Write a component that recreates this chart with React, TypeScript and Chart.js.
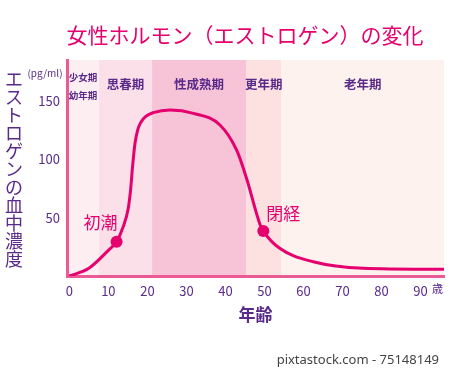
import React, { useEffect, useRef } from "react";
import { Chart, registerables } from "chart.js";

Chart.register(...registerables);

const TITLE = "女性ホルモン（エストロゲン）の変化";
const Y_TITLE = "エストロゲンの血中濃度";
const Y_UNIT = "(pg/ml)";
const X_TITLE = "年齢";
const X_UNIT = "歳";
const CREDIT = "pixtastock.com - 75148149";

const AGES = [0, 5, 10, 12.1, 13.8, 15.1, 15.7, 16.2, 16.8, 17.5, 18.3, 19.5, 21.5, 25.8, 31.8, 38.6, 42.9, 45.4, 48.9, 49.7, 53.9, 62.5, 75.3, 96];
const ESTROGEN = [0, 6.6, 22, 29.4, 42.2, 58, 74, 93.6, 113, 125, 131.5, 136.5, 139.9, 142.2, 139.3, 129.3, 107.5, 83.7, 43.7, 38.5, 23.7, 12.2, 6.6, 5.7];

const EVENT_LABELS = ["初潮", "閉経"];
const EVENT_AGES = [12.1, 49.7];
const EVENT_VALUES = [29.4, 38.5];

const STAGE_LABELS = [["少女期", "幼年期"], ["思春期"], ["性成熟期"], ["更年期"], ["老年期"]];
const STAGE_STARTS = [-0.6, 7.6, 21.2, 45.3, 54.3];
const STAGE_ENDS = [7.6, 21.2, 45.3, 54.3, 96];
const STAGE_COLORS = ["#fdeef2", "#fbe0e9", "#f6c3d7", "#fde1e0", "#fef2ee"];

const X_TICKS = [0, 10, 20, 30, 40, 50, 60, 70, 80, 90];
const Y_TICKS = [50, 100, 150];

const PURPLE = "#5a2a8a";
const MAGENTA = "#e5006e";
const AXIS_PINK = "#ea5a95";
const JP = '"Noto Sans CJK JP", "Noto Sans", sans-serif';

const bandsPlugin = {
  id: "bands",
  beforeDraw(chart: any) {
    const { ctx, chartArea, scales } = chart;
    const x = scales.x;
    ctx.save();
    STAGE_STARTS.forEach((s, i) => {
      const x0 = x.getPixelForValue(s);
      const x1 = x.getPixelForValue(STAGE_ENDS[i]);
      ctx.fillStyle = STAGE_COLORS[i];
      ctx.fillRect(x0, chartArea.top, x1 - x0, chartArea.bottom - chartArea.top);
    });
    ctx.restore();
  },
};

const textPlugin = {
  id: "texts",
  afterDraw(chart: any) {
    const { ctx, chartArea, scales } = chart;
    const x = scales.x;
    const y = scales.y;
    ctx.save();
    ctx.textAlign = "center";
    ctx.textBaseline = "middle";

    ctx.fillStyle = MAGENTA;
    ctx.font = `21px ${JP}`;
    ctx.fillText(TITLE, 245, 35);

    ctx.fillStyle = PURPLE;
    ctx.font = `18px ${JP}`;
    Array.from(Y_TITLE).forEach((ch, i) => {
      ctx.fillText(ch, 14, 79 + i * 18);
    });

    ctx.font = `10px ${JP}`;
    ctx.fillText(Y_UNIT, 45, 73);

    STAGE_LABELS.forEach((lines, i) => {
      const cx = (x.getPixelForValue(STAGE_STARTS[i]) + x.getPixelForValue(STAGE_ENDS[i])) / 2;
      if (lines.length === 1) {
        ctx.font = `bold 12.5px ${JP}`;
        ctx.fillText(lines[0], cx, 84);
      } else {
        ctx.font = `bold 9.5px ${JP}`;
        ctx.fillText(lines[0], cx, 77);
        ctx.fillText(lines[1], cx, 95);
      }
    });

    ctx.fillStyle = MAGENTA;
    ctx.font = `17px ${JP}`;
    const offs = [[-16, -19], [20, -18]];
    EVENT_LABELS.forEach((t, i) => {
      const px = x.getPixelForValue(EVENT_AGES[i]);
      const py = y.getPixelForValue(EVENT_VALUES[i]);
      ctx.fillText(t, px + offs[i][0], py + offs[i][1]);
    });

    ctx.fillStyle = PURPLE;
    ctx.font = `bold 17px ${JP}`;
    ctx.fillText(X_TITLE, (chartArea.left + chartArea.right) / 2, 315);
    ctx.font = `11px ${JP}`;
    ctx.fillText(X_UNIT, x.getPixelForValue(90) + 17, 289);

    ctx.fillStyle = "#444";
    ctx.font = `13px "Noto Sans", sans-serif`;
    ctx.textAlign = "right";
    ctx.fillText(CREDIT, 439, 360);
    ctx.restore();
  },
};

export default function App() {
  const ref = useRef<HTMLCanvasElement>(null);
  useEffect(() => {
    if (!ref.current) return;
    const chart = new Chart(ref.current, {
      type: "line",
      data: {
        datasets: [
          {
            type: "scatter",
            data: EVENT_AGES.map((a, i) => ({ x: a, y: EVENT_VALUES[i] })),
            pointRadius: 6,
            pointBackgroundColor: MAGENTA,
            pointBorderWidth: 0,
            backgroundColor: MAGENTA,
            borderColor: MAGENTA,
            clip: false,
          } as any,
          {
            type: "line",
            data: AGES.map((a, i) => ({ x: a, y: ESTROGEN[i] })),
            borderColor: MAGENTA,
            borderWidth: 3,
            pointRadius: 0,
            cubicInterpolationMode: "monotone",
            fill: false,
          } as any,
        ],
      },
      options: {
        responsive: false,
        animation: false,
        devicePixelRatio: 1,
        layout: { padding: { top: 60, right: 6, left: 0, bottom: 0 } },
        plugins: { legend: { display: false }, tooltip: { enabled: false } },
        scales: {
          x: {
            type: "linear",
            min: -0.6,
            max: 96,
            grid: { display: false, drawTicks: false },
            border: { display: true, color: AXIS_PINK, width: 3 },
            afterBuildTicks: (s: any) => {
              s.ticks = X_TICKS.map((v) => ({ value: v }));
            },
            afterFit: (s: any) => {
              s.height = 93;
            },
            ticks: {
              color: PURPLE,
              padding: 7,
              maxRotation: 0,
              autoSkip: false,
              font: { family: JP, size: 13 },
            },
          },
          y: {
            type: "linear",
            min: 0,
            max: 185,
            grid: { display: false, drawTicks: false },
            border: { display: true, color: AXIS_PINK, width: 3 },
            afterBuildTicks: (s: any) => {
              s.ticks = Y_TICKS.map((v) => ({ value: v }));
            },
            afterFit: (s: any) => {
              s.width = 67;
            },
            ticks: {
              color: PURPLE,
              padding: 7,
              font: { family: JP, size: 13 },
            },
          },
        },
      },
      plugins: [bandsPlugin, textPlugin],
    });
    return () => chart.destroy();
  }, []);

  return (
    <div style={{ position: "absolute", left: 0, top: 0, width: 450, height: 369, background: "#fff" }}>
      <canvas ref={ref} width={450} height={369} style={{ width: 450, height: 369, display: "block" }} />
    </div>
  );
}
